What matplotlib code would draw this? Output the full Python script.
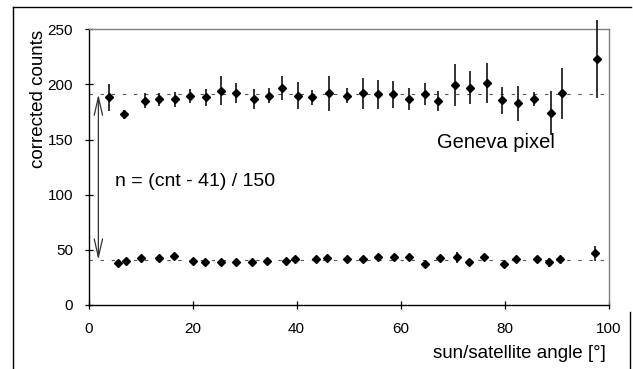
import matplotlib
matplotlib.use("Agg")
import matplotlib.pyplot as plt
from matplotlib.patches import FancyArrowPatch
from matplotlib.lines import Line2D

plt.rcParams['font.family'] = ['Liberation Sans', 'DejaVu Sans']

# Upper series (raw pixel counts)
upper_angle = [4.0, 6.9, 10.9, 13.6, 16.6, 19.6, 22.6, 25.5, 28.4, 31.8, 34.8,
               37.2, 40.3, 43.0, 46.3, 49.7, 52.7, 55.7, 58.6, 61.7, 64.8,
               67.2, 70.5, 73.3, 76.6, 79.6, 82.6, 85.6, 88.9, 91.1, 97.8]
upper_counts = [188.3, 172.9, 185.2, 186.5, 186.5, 189.5, 188.3, 194.3, 191.9,
                186.8, 189.8, 197.0, 189.8, 188.3, 191.9, 189.8, 191.9, 191.0,
                191.0, 186.8, 191.0, 185.2, 199.5, 197.0, 201.0, 185.6, 182.9,
                186.9, 173.8, 192.0, 223.0]
upper_err = [12, 4, 7, 6, 7, 6, 8, 13, 9, 9, 7, 11, 12, 7, 16, 7, 14, 13, 12,
             10, 10, 9, 19, 15, 18, 12, 16, 6, 20, 23, 35]

# Lower series
lower_angle = [5.6, 7.3, 10.0, 13.6, 16.5, 20.0, 22.4, 25.4, 28.4, 31.4, 34.3,
               37.9, 39.8, 43.8, 45.8, 49.7, 52.8, 55.7, 58.8, 61.7, 64.7,
               67.6, 70.8, 73.2, 76.1, 79.9, 82.2, 86.2, 88.6, 90.7, 97.4]
lower_counts = [38.4, 40.2, 42.9, 42.9, 44.4, 40.2, 38.7, 38.7, 38.7, 38.7,
                40.2, 40.2, 41.7, 41.7, 42.9, 41.4, 41.4, 43.2, 43.2, 43.2,
                37.2, 42.9, 43.2, 38.7, 43.8, 37.2, 41.4, 41.4, 38.7, 41.4, 46.9]
lower_err = [2, 2, 2, 2, 2, 2, 2, 2, 2, 2, 2, 2, 2, 2, 2, 2, 2, 2, 2, 2,
             3, 2, 5, 3, 2, 3, 2, 2, 4, 2, 7]

# Reference levels: n = (cnt - 41) / 150
level_low = 41
level_high = 191
x_ticks = [0, 20, 40, 60, 80, 100]
y_ticks = [0, 50, 100, 150, 200, 250]

W, H, DPI = 633, 369, 100
fig = plt.figure(figsize=(W / DPI, H / DPI), dpi=DPI)
ax = fig.add_axes([88.5 / W, 1 - 305 / H, (608.5 - 88.5) / W, (305 - 29.3) / H])

# dashed reference levels
for lvl in (level_low, level_high):
    ax.plot([0, 100], [lvl, lvl], color='#555555', lw=0.8,
            dashes=(3, 7), zorder=1)

for xs, ys, es in ((upper_angle, upper_counts, upper_err),
                   (lower_angle, lower_counts, lower_err)):
    ax.errorbar(xs, ys, yerr=es, fmt='D', color='black', ms=3.8,
                ecolor='#111111', elinewidth=1.2, capsize=0, zorder=3,
                clip_on=False)

# double arrow spanning the two levels
arrow = FancyArrowPatch((1.9, level_low), (1.9, level_high),
                        arrowstyle='<->,head_length=13,head_width=3.0',
                        mutation_scale=1, color='#333333', lw=0.9,
                        shrinkA=0, shrinkB=0, zorder=2)
ax.add_patch(arrow)

ax.text(5.1, 112, 'n = (cnt - 41) / 150', fontsize=14, va='center',
        ha='left')
ax.text(67, 147, 'Geneva pixel', fontsize=14.5, va='center', ha='left')

ax.set_xlim(0, 100)
ax.set_ylim(0, 250)
ax.set_xticks(x_ticks)
ax.set_yticks(y_ticks)
ax.tick_params(direction='inout', length=6, width=0.9, labelsize=11,
               color='black')
ax.tick_params(axis='x', pad=9)
ax.tick_params(axis='y', pad=8)

for side in ('left', 'bottom'):
    ax.spines[side].set_color('black')
    ax.spines[side].set_linewidth(1.0)
for side in ('top', 'right'):
    ax.spines[side].set_color('#808080')
    ax.spines[side].set_linewidth(1.0)

fig.text(606 / W, 1 - 353 / H, 'sun/satellite angle [°]', fontsize=13.5,
         ha='right', va='center')
fig.text(38.5 / W, 1 - 98.5 / H, 'corrected counts', fontsize=13.5,
         rotation=90, ha='center', va='center')

# outer chart frame
frame_kw = dict(color='black', lw=1.0, transform=fig.transFigure)
fig.add_artist(Line2D([13 / W, 13 / W], [0, 1 - 7 / H], **frame_kw))
fig.add_artist(Line2D([13 / W, 631 / W], [1 - 7 / H, 1 - 7 / H], **frame_kw))
fig.add_artist(Line2D([630 / W, 630 / W], [0, 1 - 312 / H], **frame_kw))

fig.savefig('out.png', dpi=DPI)
